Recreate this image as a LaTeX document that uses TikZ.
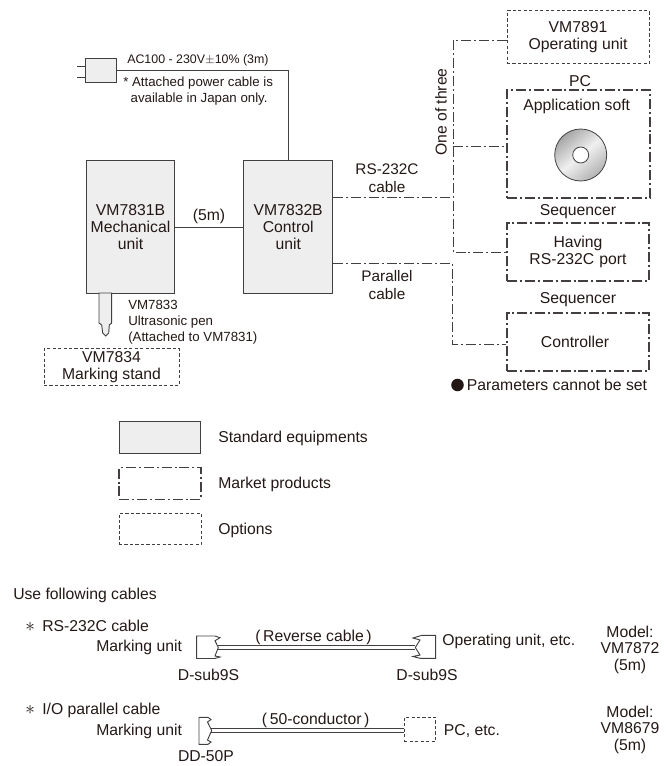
\documentclass[tikz,border=0pt]{standalone}
\usepackage{fontspec}
\setmainfont{Liberation Sans}
\definecolor{ink}{HTML}{231815}
\definecolor{wire}{HTML}{443F3F}
\definecolor{boxfill}{HTML}{EEEEEE}
\tikzset{
  x=0.75pt,y=-0.75pt,
  lbl/.style={font=\fontsize{11.8}{12.75}\selectfont,text=ink,inner sep=0pt,align=center},
  lbll/.style={lbl,align=left,anchor=west},
  small/.style={lbl,font=\fontsize{9.95}{12}\selectfont,align=left},
  std/.style={draw=wire,fill=boxfill,line width=0.75pt,inner sep=0pt},
  mkt/.style={draw=wire,line width=0.8pt,dash pattern=on 7.5pt off 2.2pt on 1.5pt off 2.2pt,inner sep=0pt},
  opt/.style={draw=wire,line width=0.75pt,dash pattern=on 2.4pt off 1.7pt,inner sep=0pt},
  wireline/.style={draw=wire,line width=0.7pt},
  mktline/.style={draw=wire,line width=0.65pt,dash pattern=on 7.5pt off 2.2pt on 1.5pt off 2.2pt},
  sized/.style 2 args={minimum width=#1*0.75pt,minimum height=#2*0.75pt},
}
\newcommand{\astmark}{\makebox[12.75pt][l]{\fontsize{15}{15}\selectfont$\ast$}}
\begin{document}
\begin{tikzpicture}
\useasboundingbox (0,0) rectangle (666,766);
% boxes
\node[std,sized={31}{24}] (plug) at (101,70.5) {};
\node[std,sized={88.5}{132.5},lbl] (mech) at (130.5,227) {VM7831B\\Mechanical\\unit};
\node[std,sized={88.5}{132.5},lbl] (ctrl) at (288.2,227) {VM7832B\\Control\\unit};
\node[opt,sized={135}{37},lbl] (stand) at (111.5,367) {VM7834\\Marking stand};
\node[opt,sized={142}{53},lbl] (opunit) at (578,37.5) {VM7891\\Operating unit};
\node[mkt,sized={143}{108}] (pc) at (578.5,144) {};
\node[mkt,sized={142}{58},lbl,text width=139*0.75pt,align=center] (seq) at (578,252) {Having\\RS-232C port};
\node[mkt,sized={142}{58}] (ctl) at (578,342) {};
% plug prongs
\coordinate (p1a) at (77,66); \coordinate (p1b) at (85.5,66);
\coordinate (p2a) at (77,77); \coordinate (p2b) at (85.5,77);
\draw[wireline] (p1a) -- (p1b) (p2a) -- (p2b);
% wires
\draw[wireline] (plug.east) -| (ctrl.north);
\draw[wireline] (mech.east) -- (ctrl.west);
% pen
\draw[wireline,fill=boxfill] (99,293) -- (99,323) -- (101.7,325) -- (102.7,333) -- (105.7,336) -- (108.7,333) -- (109.3,325) -- (111.7,323) -- (111.7,293) -- cycle;
% market lines
\coordinate (bus) at (453,146);
\draw[mktline] (opunit.west |- 0,40) -- (453,40) -- (453,252) -- (seq.west |- 0,252);
\draw[mktline] (bus) -- (pc.west |- bus);
\draw[mktline] (ctrl.east |- 0,197) -- (453,197);
\draw[mktline] (ctrl.east |- 0,263) -- (452.5,263) -- (452.5,344) -- (ctl.west |- 0,344);
% disc
\shade[left color=black!35,right color=black!30,middle color=black!6,shading angle=40] (580.7,155) circle[radius=19.5pt];
\draw[wire,line width=0.6pt] (580.7,155) circle[radius=19.5pt];
\fill[white,draw=wire,line width=0.6pt] (580.7,155) circle[radius=6pt];
% labels
\node[small,font=\fontsize{9.3}{12}\selectfont,anchor=west] (acl) at (127,60) {AC100 - 230V$\pm$10\% (3m)};
\node[small,anchor=north west] (note) at (123,77) {* Attached power cable is\\\ \ available in Japan only.};
\node[lbl] (fivem) at (209,216) {(5m)};
\node[lbl,font=\fontsize{11.5}{13.5}\selectfont] (rs) at (387,178.5) {RS-232C\\cable};
\node[lbl,font=\fontsize{11.5}{13.5}\selectfont] (par) at (387,285) {Parallel\\cable};
\node[small,anchor=north west] (pen) at (128,299.5) {VM7833\\Ultrasonic pen\\(Attached to VM7831)};
\node[lbl,rotate=90] (one) at (441,112) {One of three};
\node[lbl] (pctxt) at (580,81.5) {PC};
\node[lbl] (app) at (576.7,106.5) {Application soft};
\node[lbl] (seq1) at (578,211.5) {Sequencer};
\node[lbl] (seq2) at (578,300) {Sequencer};
\node[lbl] (ctltxt) at (575,342) {Controller};
\fill[ink] (457.5,385) circle[radius=4.7pt];
\node[lbll] (params) at (466.7,385) {Parameters cannot be set};
% legend
\node[std,sized={81.5}{32}] (lg1) at (160,437.7) {};
\node[mkt,sized={82}{31.5}] (lg2) at (160,483.3) {};
\node[opt,sized={82}{31.5}] (lg3) at (160,529) {};
\node[lbll] (lt1) at (218,438) {Standard equipments};
\node[lbll] (lt2) at (218,484) {Market products};
\node[lbll] (lt3) at (218,530) {Options};
% cables
\node[lbll] (use) at (13,595) {Use following cables};
\node[lbll] (c1) at (25,626) {\astmark RS-232C cable};
\node[lbll] (c1l) at (96,647) {Marking unit};
\node[lbl] (c1t) at (313.5,637) {(\,Reverse cable\,)};
\node[lbll] (c1r) at (442,641) {Operating unit, etc.};
\node[lbl] (c1a) at (208.5,675) {D-sub9S};
\node[lbl] (c1b) at (427,675) {D-sub9S};
\node[lbl,font=\fontsize{11.8}{12.4}\selectfont] (c1m) at (630,649.5) {Model:\\VM7872\\(5m)};
\node[lbll] (c2) at (25,710) {\astmark I/O parallel cable};
\node[lbll] (c2l) at (96,731) {Marking unit};
\node[lbl] (c2t) at (315.7,720) {(\,50-conductor\,)};
\node[lbll] (c2r) at (443.7,731) {PC, etc.};
\node[lbl] (c2a) at (206,756.5) {DD-50P};
\node[lbl,font=\fontsize{11.8}{12.4}\selectfont] (c2m) at (630,729.5) {Model:\\VM8679\\(5m)};
\node[opt,sized={31.5}{24}] (pcbox) at (420,729.3) {};
% connector shapes
\draw[wireline] (218,645.2) -- (415,645.2) (218,649.8) -- (415,649.8);
\draw[wireline] (211,728.3) -- (pcbox.west |- 0,728.3) (211,732.8) -- (pcbox.west |- 0,732.8);
\draw[wireline] (196.7,636) -- (215,636) -- (220,637.7) -- (215,640.7) -- (218.3,647.5) -- (215,656) -- (220,657) -- (215,658.5) -- (196.7,658.5) -- cycle;
\draw[wireline] (435.7,635.3) -- (422,635.3) -- (413,638) -- (420,640) -- (415.3,647.5) -- (420,655) -- (413,656.5) -- (420,658.3) -- (435.7,658.3) -- cycle;
\draw[wireline] (199,717.3) -- (208,717.3) -- (211,719.5) -- (207.5,722) -- (211.7,730.5) -- (207.5,740) -- (211,742) -- (208,744.3) -- (199,744.3) -- cycle;
\end{tikzpicture}
\end{document}
